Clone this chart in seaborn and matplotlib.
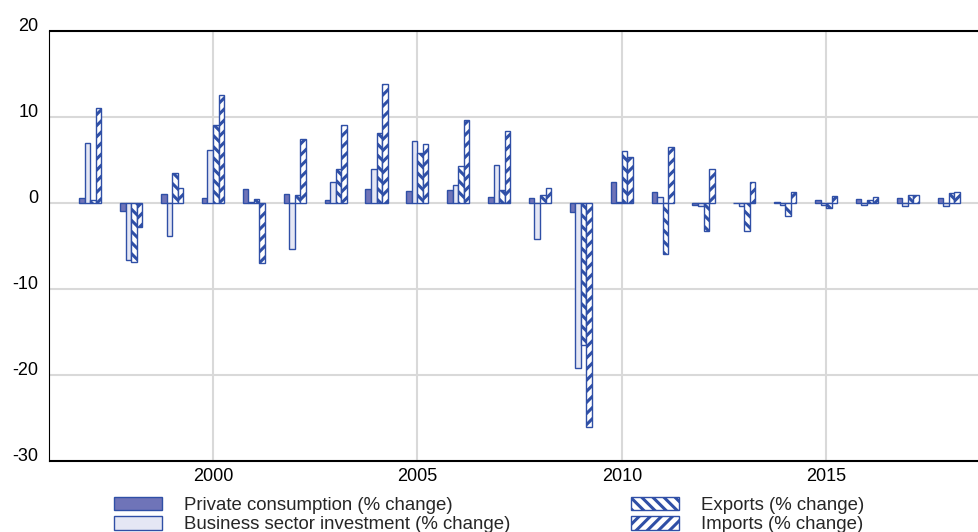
import matplotlib
matplotlib.use('Agg')
import matplotlib.pyplot as plt
from matplotlib.patches import Patch
import seaborn as sns
import pandas as pd

# Data
years = list(range(1997, 2019))
consumption = [0.6, -0.9, 1.0, 0.6, 1.6, 1.1, 0.4, 1.6, 1.4, 1.5, 0.7,
               0.6, -1.0, 2.4, 1.25, -0.2, -0.05, 0.12, 0.35, 0.45, 0.6, 0.6]
investment = [7.0, -6.6, -3.8, 6.2, 0.1, -5.3, 2.4, 4.0, 7.2, 2.1, 4.4,
              -4.2, -19.2, 0.1, 0.65, -0.4, -0.4, -0.25, -0.25, -0.25, -0.4, -0.4]
exports = [0.4, -6.9, 3.5, 9.1, 0.5, 0.9, 3.9, 8.1, 5.8, 4.3, 1.5,
           0.9, -16.5, 6.0, -5.9, -3.3, -3.3, -1.5, -0.6, 0.4, 0.9, 1.15]
imports = [11.1, -2.8, 1.8, 12.6, -7.0, 7.5, 9.1, 13.8, 6.9, 9.6, 8.4,
           1.8, -26.1, 5.4, 6.5, 3.9, 2.4, 1.3, 0.8, 0.7, 0.9, 1.3]

series_names = ["Private consumption (% change)",
                "Business sector investment (% change)",
                "Exports (% change)",
                "Imports (% change)"]
xticks = [2000, 2005, 2010, 2015]
yticks = [-30, -20, -10, 0, 10, 20]

BLUE = "#2f4fa6"
fills = ["#6f74b8", "#e5e7f4", "white", "white"]
hatches = [None, None, "\\\\\\", "///"]

df = pd.DataFrame({
    "year": years * 4,
    "value": consumption + investment + exports + imports,
    "series": sum([[s] * len(years) for s in series_names], []),
})

sns.set_style("white")
plt.rcParams["font.family"] = ["Liberation Sans", "DejaVu Sans"]
plt.rcParams["hatch.linewidth"] = 2.2
plt.rcParams["ytick.alignment"] = "baseline"

fig = plt.figure(figsize=(9.79, 5.32), dpi=100)
ax = fig.add_axes([49.5 / 979, 1 - 461 / 532, 1 - 49.5 / 979, 430 / 532])

sns.barplot(data=df, x="year", y="value", hue="series", hue_order=series_names,
            native_scale=True, width=0.54, errorbar=None, legend=False,
            palette=fills, edgecolor=BLUE, linewidth=1.0, ax=ax)

for cont, fc, h in zip(ax.containers, fills, hatches):
    for bar in cont:
        bar.set_facecolor(fc)
        bar.set_edgecolor(BLUE)
        bar.set_linewidth(1.0)
        if h:
            bar.set_hatch(h)

ax.set_xlim(1996.0, 2018.74)
ax.set_ylim(-30, 20)
ax.set_xticks(xticks)
ax.set_xticklabels([str(x) for x in xticks])
ax.set_yticks(yticks)
ax.set_yticklabels([str(y) for y in yticks])
ax.tick_params(axis="both", length=0, labelsize=13, colors="black")
ax.tick_params(axis="y", pad=8)
ax.tick_params(axis="x", pad=5)
ax.set_xlabel("")
ax.set_ylabel("")

ax.grid(True, color="#d9d9d9", linewidth=1.5)
ax.set_axisbelow(True)
for side in ["top", "bottom"]:
    ax.spines[side].set_color("black")
    ax.spines[side].set_linewidth(1.5)
ax.spines["left"].set_color("black")
ax.spines["left"].set_linewidth(0.8)
ax.spines["right"].set_visible(False)

handles = [Patch(facecolor=fc, edgecolor=BLUE, hatch=h, linewidth=1.0)
           for fc, h in zip(fills, hatches)]
leg_kw = dict(frameon=False, fontsize=13.4, loc="upper left", borderpad=0,
              borderaxespad=0, handlelength=2.55, handleheight=0.76,
              handletextpad=1.2, labelspacing=0.12)
leg1 = fig.legend(handles[:2], series_names[:2],
                  bbox_to_anchor=(114.5 / 979, 1 - 496.5 / 532), **leg_kw)
leg2 = fig.legend(handles[2:], series_names[2:],
                  bbox_to_anchor=(631.5 / 979, 1 - 496.5 / 532), **leg_kw)

fig.savefig("out.png", dpi=100)
